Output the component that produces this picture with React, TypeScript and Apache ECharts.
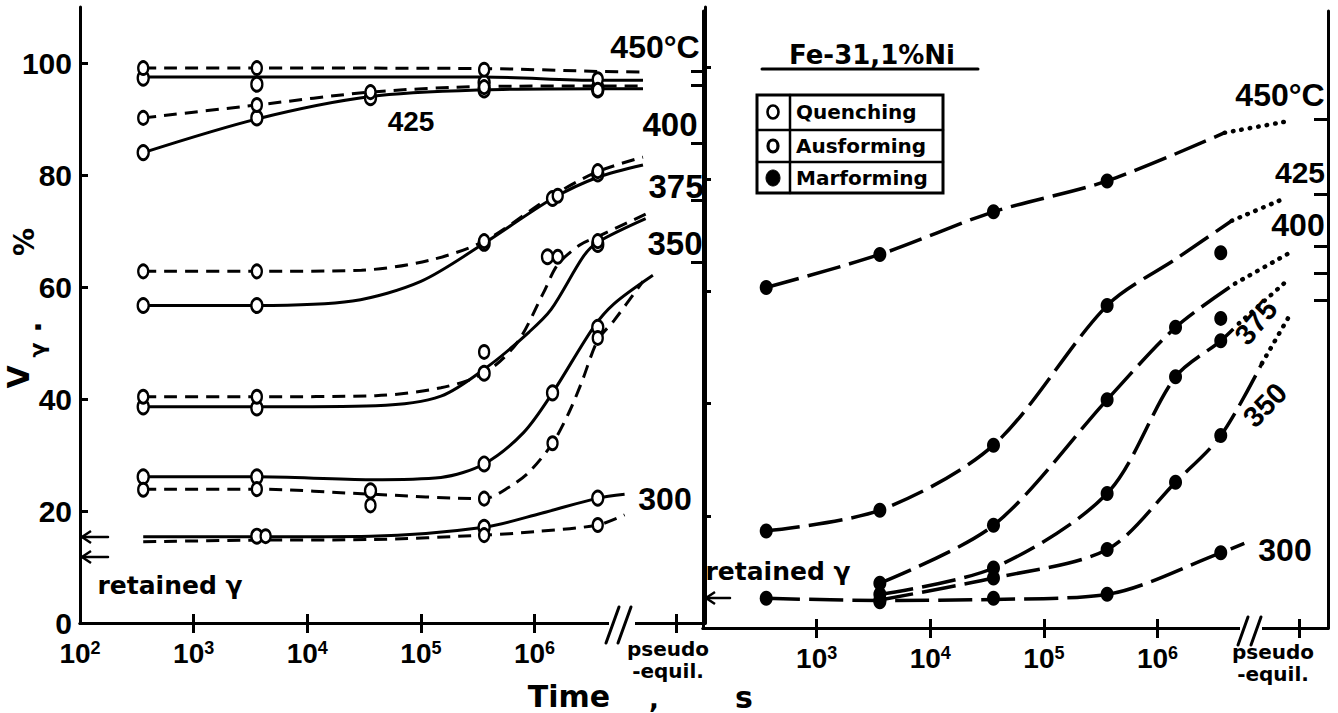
import React, { useEffect, useRef } from 'react';
import * as echarts from 'echarts';

const NUM_FONT = "'Liberation Sans', Arial, sans-serif";
const WORD_FONT = "'DejaVu Sans', sans-serif";

// x axis is drawn in log10(time / s)
const X_MIN = 2;
const X_MAX = 7.5;
const PSEUDO_EXP = 7.25;
const xTickExps = [3, 4, 5, 6, PSEUDO_EXP];
const leftLabelExps = [2, 3, 4, 5, 6];
const rightLabelExps = [3, 4, 5, 6];
const yLabelValues = [0, 20, 40, 60, 80, 100];
const yTickValues = [20, 40, 60, 80, 100];
const leftEquilTicks = [98.6, 96, 85.7, 75.5, 64.5];
const rightEquilTicks = [90.7, 77.4, 68.1, 63.2, 58.4];

// ---- Left panel: Quenching (solid) curves, [time s, V %]
const q450 = [[360, 97.5], [3600, 97.5], [360000, 97.5], [3.6e6, 96.9], [9e6, 96.9]];
const q425 = [[360, 84], [3600, 90], [36000, 94], [360000, 95.2], [3.6e6, 95.4], [9e6, 95.4]];
const q400 = [[360, 56.7], [3600, 56.7], [25000, 57.5], [100000, 61], [360000, 67.8], [1.44e6, 75.8], [3.6e6, 79.6], [9e6, 81.8]];
const q375 = [[360, 38.6], [3600, 38.6], [40000, 38.8], [150000, 40.5], [400000, 46], [900000, 52], [1.4e6, 56], [2.7e6, 65.5], [3.6e6, 68], [9.5e6, 72.2]];
const q350 = [[360, 26.1], [3600, 26.1], [36000, 25.6], [150000, 26], [360000, 28.4], [800000, 34], [1.44e6, 41.1], [3.3e6, 52.8], [5e6, 57], [1.1e7, 62.1]];
const q300 = [[360, 15.4], [3600, 15.4], [36000, 15.5], [360000, 17.1], [1.15e6, 19.6], [3.6e6, 22.3], [6.2e6, 23]];

// ---- Left panel: Ausforming (dashed) curves
const a450 = [[360, 99.1], [3600, 99.1], [360000, 99], [3.6e6, 98.5], [9e6, 98.4]];
const a425 = [[360, 90.2], [3600, 92.5], [36000, 94.8], [360000, 95.8], [3.6e6, 95.9], [9e6, 95.9]];
const a400 = [[360, 62.8], [3600, 62.8], [30000, 63], [120000, 64.8], [360000, 68.2], [1.44e6, 76.3], [3.6e6, 80.6], [9e6, 83.2]];
const a375 = [[360, 40.4], [3600, 40.4], [40000, 40.6], [150000, 42], [360000, 44.6], [700000, 50], [1.2e6, 59], [1.6e6, 64], [2.5e6, 67.5], [3.6e6, 69], [9.5e6, 73]];
const a350 = [[360, 23.9], [3600, 23.9], [36000, 23], [360000, 22.2], [600000, 24.3], [900000, 27], [1.44e6, 32.1], [2e6, 37.5], [2.6e6, 43], [3.6e6, 50.5], [5e6, 54], [9e6, 61]];
const a300 = [[360, 14.5], [3600, 14.8], [36000, 14.9], [360000, 15.7], [1e6, 16.3], [3.6e6, 17.5], [6.2e6, 19.3]];

// ---- Left panel measured points
const quenchingPts = [
  [360, 97.3], [3600, 96.2], [360000, 96.5], [3.6e6, 95.2],
  [360, 84], [3600, 90.2], [36000, 93.8], [360000, 95.2], [3.6e6, 95.6],
  [360, 56.7], [3600, 56.7], [360000, 67.8], [1.44e6, 75.8], [3.6e6, 80.2],
  [360, 38.6], [3600, 38.4], [360000, 44.6], [1.3e6, 65.4], [3.6e6, 67.6],
  [360, 26.1], [3600, 26.1], [36000, 23.6], [360000, 28.4], [1.44e6, 41.1], [3.6e6, 52.8],
  [3600, 15.5], [360000, 17.1], [3.6e6, 22.3],
];
const ausformingPts = [
  [360, 99.1], [3600, 99.1], [360000, 98.8], [3.6e6, 97.1],
  [360, 90.2], [3600, 92.5], [36000, 94.8], [360000, 95.7], [3.6e6, 95.2],
  [360, 62.8], [3600, 62.8], [360000, 68.2], [1.6e6, 76.3], [3.6e6, 80.7],
  [360, 40.4], [3600, 40.4], [360000, 48.4], [1.6e6, 65.4], [3.6e6, 68.2],
  [360, 23.8], [3600, 23.9], [36000, 21], [360000, 22.2], [1.44e6, 32.1], [3.6e6, 50.9],
  [4300, 15.5], [360000, 15.7], [3.6e6, 17.5],
];

// ---- Right panel: Marforming curves (dashed part, dotted tail)
const m450 = [[360, 60.7], [3600, 66.6], [36000, 74.2], [360000, 79.7], [3.9e6, 88.3]];
const m450Tail = [[3.9e6, 88.3], [1.45e7, 90.4]];
const m425 = [[360, 17.3], [3600, 21], [36000, 32.6], [360000, 57.5], [1.5e6, 66], [4.5e6, 72.6]];
const m425Tail = [[4.5e6, 72.6], [1.35e7, 76.7]];
const m400 = [[3600, 8], [36000, 18.3], [360000, 40.7], [1.44e6, 53.6], [4.8e6, 61.4]];
const m400Tail = [[4.8e6, 61.4], [1.4e7, 66.7]];
const m375 = [[3600, 6], [36000, 10.7], [360000, 24], [1.44e6, 44.8], [3.6e6, 51.2], [5.2e6, 54.3]];
const m375Tail = [[5.2e6, 54.3], [1.45e7, 62.3]];
const m350 = [[3600, 5], [36000, 8.9], [360000, 14], [1.44e6, 26], [3.6e6, 34.3], [8.3e6, 47.2]];
const m350Tail = [[8.3e6, 47.2], [1.45e7, 55.7]];
const m300 = [[360, 5.3], [3600, 4.9], [36000, 5.1], [360000, 6], [3.6e6, 13.4], [5.8e6, 15.1]];

const marformingPts = [
  [360, 60.7], [3600, 66.6], [36000, 74.2], [360000, 79.7],
  [360, 17.3], [3600, 21], [36000, 32.6], [360000, 57.5], [3.6e6, 66.9],
  [3600, 8], [36000, 18.3], [360000, 40.7], [1.44e6, 53.6], [3.6e6, 55.2],
  [3600, 6], [36000, 10.7], [360000, 24], [1.44e6, 44.8], [3.6e6, 51.2],
  [3600, 5], [36000, 8.9], [360000, 14], [1.44e6, 26], [3.6e6, 34.3],
  [360, 5.3], [3600, 4.7], [36000, 5.3], [360000, 6], [3.6e6, 13.4],
];

const toXY = (d: number[][]) => d.map(([t, v]) => [Math.log10(t), v]);

function curve(data: number[][], panel: number, dash: any, width: number, cap = 'butt') {
  return {
    type: 'line',
    data: toXY(data),
    xAxisIndex: panel * 2,
    yAxisIndex: panel * 2,
    smooth: 0.3,
    symbol: 'none',
    showSymbol: false,
    silent: true,
    lineStyle: { color: '#000', width, type: dash, cap },
    z: 3,
  };
}

function points(data: number[][], panel: number, size: number[], fill: string, border: number) {
  return {
    type: 'scatter',
    data: toXY(data),
    xAxisIndex: panel * 2,
    yAxisIndex: panel * 2,
    symbol: 'circle',
    symbolSize: size,
    silent: true,
    itemStyle: { color: fill, borderColor: '#000', borderWidth: border, opacity: 1 },
    z: 5,
  };
}

function txt(text: string, x: number, y: number, size: number, opts: any = {}) {
  return {
    type: 'text',
    x,
    y,
    rotation: opts.rot || 0,
    z: 20,
    style: {
      text,
      fill: '#000',
      font: `bold ${size}px ${opts.family || NUM_FONT}`,
      lineHeight: opts.lh,
      textAlign: opts.align || 'center',
      align: opts.align || 'center',
      textVerticalAlign: 'middle',
      verticalAlign: 'middle',
    },
  };
}

function seg(x1: number, y1: number, x2: number, y2: number, w = 3) {
  return { type: 'line', z: 20, shape: { x1, y1, x2, y2 }, style: { stroke: '#000', lineWidth: w, lineCap: 'round' } };
}

const axisLineStyle = { lineStyle: { color: '#000', width: 3 } };

function xAxes(grid: number, labelExps: number[]) {
  return [
    {
      type: 'value', gridIndex: grid, position: 'bottom', min: X_MIN, max: X_MAX, interval: 1,
      axisLine: axisLineStyle,
      splitLine: { show: false },
      axisTick: { show: true, inside: true, length: 9, customValues: xTickExps, lineStyle: { color: '#000', width: 3 } },
      axisLabel: {
        show: true,
        customValues: labelExps,
        margin: 16,
        formatter: (v: number) => `{b|10}{s|${Math.round(v)}}`,
        rich: {
          b: { fontSize: 28, fontWeight: 'bold', fontFamily: NUM_FONT, color: '#000', lineHeight: 28 },
          s: { fontSize: 18, fontWeight: 'bold', fontFamily: NUM_FONT, color: '#000', verticalAlign: 'top', lineHeight: 14 },
        },
      },
    },
    {
      type: 'value', gridIndex: grid, position: 'top', min: X_MIN, max: X_MAX, interval: 1,
      axisLine: axisLineStyle,
      splitLine: { show: false },
      axisTick: { show: true, inside: true, length: 10, customValues: xTickExps, lineStyle: { color: '#000', width: 3 } },
      axisLabel: { show: false },
    },
  ];
}

function yAxes(grid: number, showLabels: boolean, equil: number[]) {
  return [
    {
      type: 'value', gridIndex: grid, position: 'left', min: 0, max: 110, interval: 20,
      axisLine: axisLineStyle,
      splitLine: { show: false },
      axisTick: { show: true, inside: true, length: 8, customValues: yTickValues, lineStyle: { color: '#000', width: 3 } },
      axisLabel: {
        show: showLabels,
        customValues: yLabelValues,
        margin: 8,
        fontSize: 30,
        lineHeight: 24,
        fontWeight: 'bold',
        fontFamily: NUM_FONT,
        color: '#000',
      },
    },
    {
      type: 'value', gridIndex: grid, position: 'right', min: 0, max: 110, interval: 20,
      axisLine: axisLineStyle,
      splitLine: { show: false },
      axisTick: { show: true, inside: true, length: 14, customValues: equil, lineStyle: { color: '#000', width: 3 } },
      axisLabel: { show: false },
    },
  ];
}

export default function App() {
  const ref = useRef<HTMLDivElement>(null);

  useEffect(() => {
    document.body.style.margin = '0';
    if (!ref.current) return;
    const chart = echarts.init(ref.current, null, { renderer: 'svg' });

    const dashL = [13, 8];
    const dashR = [34, 9];
    const dotR = [0.5, 8];

    const series: any[] = [
      curve(q450, 0, 'solid', 3), curve(q425, 0, 'solid', 3), curve(q400, 0, 'solid', 3),
      curve(q375, 0, 'solid', 3), curve(q350, 0, 'solid', 3), curve(q300, 0, 'solid', 3),
      curve(a450, 0, dashL, 3), curve(a425, 0, dashL, 3), curve(a400, 0, dashL, 3),
      curve(a375, 0, dashL, 3), curve(a350, 0, dashL, 3), curve(a300, 0, dashL, 3),
      points(quenchingPts, 0, [11, 14], '#fff', 2.6),
      points(ausformingPts, 0, [10, 13], '#fff', 2.6),
      curve(m450, 1, dashR, 3.5), curve(m425, 1, dashR, 3.5), curve(m400, 1, dashR, 3.5),
      curve(m375, 1, dashR, 3.5), curve(m350, 1, dashR, 3.5), curve(m300, 1, dashR, 3.5),
      curve(m450Tail, 1, dotR, 4.5, 'round'), curve(m425Tail, 1, dotR, 4.5, 'round'),
      curve(m400Tail, 1, dotR, 4.5, 'round'), curve(m375Tail, 1, dotR, 4.5, 'round'),
      curve(m350Tail, 1, dotR, 4.5, 'round'),
      points(marformingPts, 1, [13, 15], '#000', 0),
    ];

    const graphic: any[] = [
      // axis break marks
      { type: 'rect', z: 19, shape: { x: 609, y: 618, width: 26, height: 10 }, style: { fill: '#fff' } },
      seg(606, 643, 619, 607), seg(618, 643, 631, 607),
      { type: 'rect', z: 19, shape: { x: 1240, y: 623, width: 22, height: 10 }, style: { fill: '#fff' } },
      seg(1238, 645, 1248, 617), seg(1251, 645, 1261, 617),
      // retained gamma arrows
      seg(82, 537, 108, 537, 2.5), { type: 'polyline', z: 20, shape: { points: [[91, 531], [82, 537], [91, 543]] }, style: { stroke: '#000', lineWidth: 2.5, fill: null } },
      seg(82, 557, 108, 557, 2.5), { type: 'polyline', z: 20, shape: { points: [[91, 551], [82, 557], [91, 563]] }, style: { stroke: '#000', lineWidth: 2.5, fill: null } },
      seg(706, 598, 730, 598, 2.5), { type: 'polyline', z: 20, shape: { points: [[715, 592], [706, 598], [715, 604]] }, style: { stroke: '#000', lineWidth: 2.5, fill: null } },
      txt('retained γ', 170, 585, 25, { family: WORD_FONT }),
      txt('retained γ', 778, 571, 25, { family: WORD_FONT }),
      // y-axis title
      txt('V', 18, 377, 30, { rot: Math.PI / 2, family: WORD_FONT }),
      txt('γ', 37, 350, 22, { rot: Math.PI / 2, family: WORD_FONT }),
      txt('.', 30, 327, 30, { rot: Math.PI / 2, family: WORD_FONT }),
      txt('%', 24, 242, 28, { rot: Math.PI / 2, family: WORD_FONT }),
      // x-axis title
      txt('Time', 569, 696, 30, { family: WORD_FONT }),
      txt(',', 654, 699, 26, { family: WORD_FONT }),
      txt('s', 744, 697, 30, { family: WORD_FONT }),
      // pseudo-equilibrium labels
      txt('pseudo\n-equil.', 668, 660, 20, { family: WORD_FONT, lh: 22 }),
      txt('pseudo\n-equil.', 1273, 663, 20, { family: WORD_FONT, lh: 22 }),
      // temperature labels, left panel
      txt('450°C', 655, 47, 32),
      txt('425', 411, 121, 28),
      txt('400', 670, 124, 33),
      txt('375', 676, 186, 33),
      txt('350', 675, 243, 33),
      txt('300', 665, 499, 32),
      // temperature labels, right panel
      txt('450°C', 1280, 95, 32),
      txt('425', 1300, 172, 30),
      txt('400', 1298, 225, 32),
      txt('375', 1256, 322, 29, { rot: 0.87 }),
      txt('350', 1265, 405, 29, { rot: 0.8 }),
      txt('300', 1285, 550, 32),
      // title
      txt('Fe-31,1%Ni', 872, 55, 26, { family: WORD_FONT }),
      seg(762, 69, 978, 69, 3),
      // legend box
      { type: 'rect', z: 18, shape: { x: 757, y: 95, width: 186, height: 98 }, style: { fill: '#fff', stroke: '#000', lineWidth: 3 } },
      seg(757, 130, 943, 130, 2.5), seg(757, 162, 943, 162, 2.5), seg(790, 95, 790, 193, 2.5),
      { type: 'ellipse', z: 20, shape: { cx: 773, cy: 112, rx: 5.5, ry: 6.5 }, style: { fill: '#fff', stroke: '#000', lineWidth: 2.6 } },
      { type: 'ellipse', z: 20, shape: { cx: 773, cy: 146, rx: 5, ry: 6 }, style: { fill: '#fff', stroke: '#000', lineWidth: 3.2 } },
      { type: 'ellipse', z: 20, shape: { cx: 773, cy: 178, rx: 7, ry: 8 }, style: { fill: '#000', stroke: '#000', lineWidth: 1 } },
      txt('Quenching', 796, 112, 20, { family: WORD_FONT, align: 'left' }),
      txt('Ausforming', 796, 146, 20, { family: WORD_FONT, align: 'left' }),
      txt('Marforming', 796, 178, 20, { family: WORD_FONT, align: 'left' }),
    ];

    chart.setOption({
      animation: false,
      backgroundColor: '#fff',
      grid: [
        { left: 80, top: 7, width: 625, height: 616 },
        { left: 703, top: 11, width: 625, height: 617 },
      ],
      xAxis: [...xAxes(0, leftLabelExps), ...xAxes(1, rightLabelExps)],
      yAxis: [...yAxes(0, true, leftEquilTicks), ...yAxes(1, false, rightEquilTicks)],
      series,
      graphic,
    });

    return () => chart.dispose();
  }, []);

  return <div ref={ref} style={{ position: 'fixed', left: 0, top: 0, width: 1338, height: 713, background: '#fff' }} />;
}
